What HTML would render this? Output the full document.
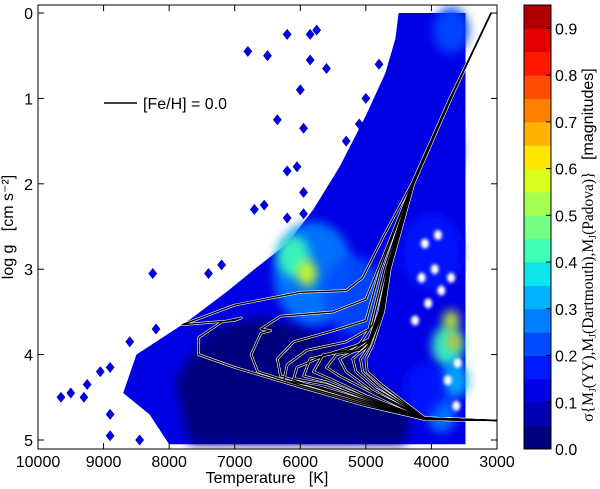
<!DOCTYPE html>
<html><head><meta charset="utf-8"><style>
html,body{margin:0;padding:0;background:#fff;}
svg{display:block;font-family:"Liberation Sans",sans-serif;}
</style></head><body>
<svg id="chart" width="600" height="489" viewBox="0 0 600 489">
<defs>
<filter id="blur4" x="-50%" y="-50%" width="200%" height="200%"><feGaussianBlur stdDeviation="5"/></filter>
<filter id="blur2" x="-50%" y="-50%" width="200%" height="200%"><feGaussianBlur stdDeviation="1.5"/></filter>
<clipPath id="plotclip"><rect x="38" y="5" width="459" height="444"/></clipPath>
</defs>
<g id="density" clip-path="url(#plotclip)"></g>
<g id="isos" clip-path="url(#plotclip)"></g>
<rect x="38" y="5" width="459" height="444" fill="none" stroke="#000" stroke-width="1"/>
<g id="axes"></g>
<g>
<line x1="104" y1="103" x2="137" y2="103" stroke="#000" stroke-width="1.5"/>
<text x="143" y="109" font-size="16">[Fe/H] = 0.0</text>
</g>
<text x="267" y="483" font-size="16" text-anchor="middle">Temperature&#160;&#160;&#160;[K]</text>
<text transform="translate(13,227) rotate(-90)" font-size="16" text-anchor="middle">log g&#160;&#160;&#160;[cm s⁻²]</text>
<g id="cbar"></g>
<text transform="translate(593,245) rotate(-90)" font-size="15.5" text-anchor="middle" font-family="Liberation Serif,serif">σ{M<tspan font-size="10" dy="3">J</tspan><tspan dy="-3">(YY),M</tspan><tspan font-size="10" dy="3">J</tspan><tspan dy="-3">(Dartmouth),M</tspan><tspan font-size="10" dy="3">J</tspan><tspan dy="-3">(Padova)}&#160;&#160;&#160;</tspan><tspan font-family="Liberation Sans,sans-serif" font-size="16">[magnitudes]</tspan></text>
</svg>
<script>
const xTicks=[10000,9000,8000,7000,6000,5000,4000,3000];
const yTicks=[0,1,2,3,4,5];
const cbTicks=[0.0,0.1,0.2,0.3,0.4,0.5,0.6,0.7,0.8,0.9];
const cbColors=["#00007f","#0000b2","#0000e5","#0019ff","#004cff","#007fff","#00b2ff","#0ce5ea","#3fffb7","#72ff84","#a5ff51","#d8ff1e","#ffe500","#ffb200","#ff7f00","#ff4c00","#ff1900","#e50000","#b20000"];
const mainRegion=[[4500,0],[3480,0],[3480,5.05],[8000,5.05],[8300,4.7],[8700,4.45],[8500,4.0],[7700,3.6],[7100,3.25],[6700,3.0],[6200,2.7],[5800,2.3],[5400,1.8],[5000,1.2],[4700,0.7],[4550,0.3]];
const darkRegion=[[7700,5.05],[4400,5.05],[4300,4.7],[4700,4.4],[5200,4.0],[5900,3.7],[6600,3.55],[7400,3.7],[7900,4.3]];
const blobs=[[5800,3.05,0.3,40],[6100,2.85,0.42,16],[5900,3.05,0.55,10],[5200,3.3,0.22,30],[3750,3.9,0.42,16],[3650,4.3,0.35,14],[3700,3.6,0.55,8],[3650,3.85,0.7,6],[3850,4.7,0.28,14],[4000,2.8,0.18,30],[4000,1.6,0.14,30],[3700,0.2,0.2,18],[4100,4.4,0.18,20]];
const holes=[[4150,3.1],[3950,3.0],[4050,3.4],[3850,3.25],[4250,3.6],[3900,2.6],[4100,2.7],[3700,3.1],[3600,4.1],[3620,4.6],[3750,4.3]];
const diamonds=[[9650,4.5],[9500,4.45],[9300,4.5],[9250,4.35],[9050,4.2],[8900,4.15],[8900,4.7],[8900,4.95],[8450,5.0],[8250,3.05],[8200,3.7],[8600,3.85],[7400,3.05],[7200,2.95],[6800,0.45],[6500,0.5],[6200,0.25],[5850,0.25],[5850,0.55],[5750,0.2],[5600,0.65],[6000,0.9],[5950,1.35],[6350,1.25],[6200,1.85],[6050,1.8],[5950,2.1],[6700,2.3],[6550,2.25],[6200,2.4],[5950,2.35],[4800,0.6],[5000,1.0],[5100,1.3],[5300,1.5]];
const isochrones=[
 [[3000,4.77],[4100,4.76],[5000,4.6],[6000,4.38],[7000,4.15],[7550,4.0],[7550,3.8],[7200,3.62],[6900,3.57],[7000,3.6],[7800,3.65],[7000,3.42],[6000,3.27],[5300,3.25],[5050,3.1],[4720,2.6],[4300,2.0],[3718,1.0],[3400,0.5],[3090,0]],
 [[3000,4.77],[4100,4.76],[5000,4.58],[6000,4.36],[6650,4.2],[6750,4.0],[6600,3.75],[6450,3.72],[6600,3.7],[6300,3.55],[5500,3.5],[5000,3.35],[4760,2.9],[4292,2.0],[3716,1.0],[3400,0.5],[3090,0]],
 [[3000,4.77],[4100,4.76],[5000,4.56],[5900,4.35],[6300,4.25],[6350,4.05],[6100,3.85],[5500,3.72],[5000,3.6],[4780,3.0],[4290,2.0],[3715,1.0],[3400,0.5],[3090,0]],
 [[3000,4.77],[4100,4.76],[5000,4.54],[5700,4.38],[6250,4.3],[6200,4.12],[5900,3.95],[5300,3.85],[4950,3.7],[4720,3.0],[4285,2.0],[3712,1.0],[3400,0.5],[3090,0]],
 [[3000,4.77],[4100,4.76],[5000,4.52],[5600,4.35],[6100,4.28],[6050,4.15],[5600,4.0],[5100,3.88],[4900,3.65],[4690,3.0],[4282,2.0],[3710,1.0],[3400,0.5],[3090,0]],
 [[3000,4.77],[4100,4.76],[5000,4.5],[5600,4.32],[5950,4.25],[5850,4.05],[5300,3.95],[4950,3.82],[4800,3.5],[4670,3.0],[4280,2.0],[3710,1.0],[3400,0.5],[3090,0]],
 [[3000,4.77],[4100,4.75],[5000,4.48],[5500,4.3],[5800,4.2],[5650,4.0],[5200,3.95],[4950,3.82],[4780,3.5],[4660,3.0],[4280,2.0],[3710,1.0],[3400,0.5],[3090,0]],
 [[3000,4.77],[4100,4.75],[4900,4.45],[5400,4.25],[5600,4.15],[5450,4.0],[5100,3.95],[4930,3.82],[4770,3.5],[4650,3.0],[4280,2.0],[3710,1.0],[3400,0.5],[3090,0]],
 [[3000,4.77],[4100,4.74],[4900,4.43],[5300,4.2],[5400,4.05],[5150,3.95],[4940,3.85],[4760,3.5],[4645,3.0],[4278,2.0],[3708,1.0],[3400,0.5],[3090,0]],
 [[3000,4.77],[4100,4.74],[4850,4.4],[5150,4.2],[5200,4.05],[5000,3.92],[4930,3.85],[4750,3.5],[4640,3.0],[4275,2.0],[3705,1.0],[3400,0.5],[3090,0]],
 [[3000,4.77],[4100,4.74],[4800,4.38],[5050,4.2],[5080,4.05],[4950,3.9],[4740,3.5],[4635,3.0],[4272,2.0],[3703,1.0],[3400,0.5],[3090,0]],
 [[3000,4.77],[4100,4.74],[4750,4.36],[4980,4.2],[5000,4.05],[4900,3.9],[4730,3.5],[4630,3.0],[4270,2.0],[3700,1.0],[3400,0.5],[3090,0]]
];
const NS="http://www.w3.org/2000/svg";
const X=t=>38+(10000-t)/7000*459;
const Y=g=>13+g*85.4;
const C=v=>cbColors[Math.max(0,Math.min(18,Math.floor(v/0.05)))];
function mk(tag,attrs,parent){const e=document.createElementNS(NS,tag);for(const k in attrs)e.setAttribute(k,attrs[k]);parent.appendChild(e);return e;}
const dens=document.getElementById('density');
const pts=a=>a.map(p=>X(p[0]).toFixed(1)+','+Y(p[1]).toFixed(1)).join(' ');
let p=mk('polygon',{points:pts(mainRegion),fill:C(0.12)},dens);


p=mk('polygon',{points:pts(darkRegion),fill:C(0.02),filter:'url(#blur4)'},dens);


blobs.forEach(b=>{
 const e=mk('ellipse',{cx:X(b[0]),cy:Y(b[1]),rx:b[3],ry:b[3]*1.3,fill:C(b[2]),filter:'url(#blur4)',opacity:0.9},dens);
 
 
});
holes.forEach(h=>{
 const e=mk('ellipse',{cx:X(h[0]),cy:Y(h[1]),rx:4,ry:5,fill:'#fff',filter:'url(#blur2)'},dens);
 
 
});
diamonds.forEach(d=>{
 const cx=X(d[0]),cy=Y(d[1]);
 const e=mk('polygon',{points:`${cx},${cy-5} ${cx+4},${cy} ${cx},${cy+5} ${cx-4},${cy}`,fill:C(0.12),stroke:'#0000b2','stroke-width':0.6},dens);
 
 
});
const isoG=document.getElementById('isos');
isochrones.forEach(iso=>{
 const d='M'+iso.map(q=>X(q[0]).toFixed(1)+' '+Y(q[1]).toFixed(1)).join(' L');
 let w=mk('path',{d:d,fill:'none',stroke:'#fff','stroke-width':2.6,'stroke-linejoin':'round'},isoG);
 
 
});
isochrones.forEach(iso=>{
 const d='M'+iso.map(q=>X(q[0]).toFixed(1)+' '+Y(q[1]).toFixed(1)).join(' L');
 let b=mk('path',{d:d,fill:'none',stroke:'#000','stroke-width':1.4,'stroke-linejoin':'round'},isoG);
 
 
});
const ax=document.getElementById('axes');
xTicks.forEach(t=>{
 const x=X(t);
 mk('line',{x1:x,y1:449,x2:x,y2:443,stroke:'#000'},ax);
 mk('line',{x1:x,y1:5,x2:x,y2:11,stroke:'#000'},ax);
 const tx=mk('text',{x:x,y:467,'font-size':16,'text-anchor':'middle'},ax);tx.textContent=t;
 
 
});
yTicks.forEach(g=>{
 const y=Y(g);
 mk('line',{x1:38,y1:y,x2:44,y2:y,stroke:'#000'},ax);
 mk('line',{x1:497,y1:y,x2:491,y2:y,stroke:'#000'},ax);
 const tx=mk('text',{x:33,y:y+6,'font-size':16,'text-anchor':'end'},ax);tx.textContent=g;
 
 
});
const cb=document.getElementById('cbar');
const cbTop=5,cbBot=449,cbMax=0.95;
const CY=v=>cbBot-v/cbMax*(cbBot-cbTop);
cbColors.forEach((c,i)=>{
 const r=mk('rect',{x:524,y:CY((i+1)*0.05),width:27,height:CY(i*0.05)-CY((i+1)*0.05)+0.5,fill:c},cb);
 
 
});
mk('rect',{x:524,y:cbTop,width:27,height:cbBot-cbTop,fill:'none',stroke:'#000'},cb);
cbTicks.forEach(v=>{
 const y=CY(v);
 mk('line',{x1:551,y1:y,x2:546,y2:y,stroke:'#000'},cb);
 const tx=mk('text',{x:555,y:y+6,'font-size':16},cb);tx.textContent=v.toFixed(1);
 
 
});
</script>
</body></html>
